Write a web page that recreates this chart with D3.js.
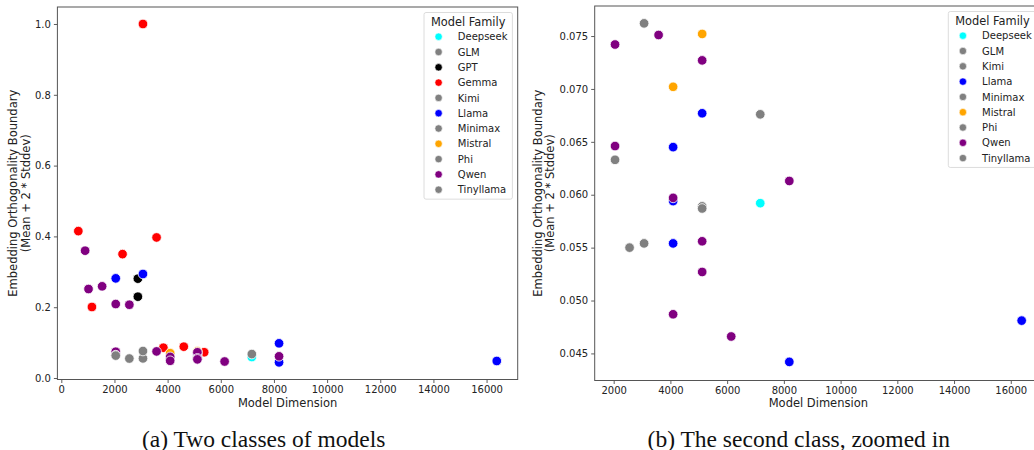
<!DOCTYPE html>
<html>
<head>
<meta charset="utf-8">
<script src="https://cdn.jsdelivr.net/npm/d3@7"></script>
<style>
  body { margin: 0; background: #fff; }
  svg text { font-family: "DejaVu Sans", sans-serif; fill: #222; }
  .caption { font-family: "Liberation Serif", "Times New Roman", serif; fill: #111; }
</style>
</head>
<body>
<svg id="chart" width="1034" height="450"></svg>
<script>
// ---- data ----
var families = ["Deepseek", "GLM", "GPT", "Gemma", "Kimi", "Llama", "Minimax", "Mistral", "Phi", "Qwen", "Tinyllama"];
var familyColors = ["cyan", "gray", "black", "red", "gray", "blue", "gray", "orange", "gray", "purple", "gray"];

// panel (a): all models
var dimsA = [7168, 5120, 2880, 2880, 640, 1152, 2304, 3072, 3584, 3840, 4608, 5376, 7168,
    2048, 3072, 4096, 4096, 4096, 5120, 8192, 8192, 16384, 3072, 4096, 5120, 2560, 3072, 5120,
    896, 1024, 1536, 2048, 2560, 2048, 2048, 3584, 4096, 4096, 5120, 5120, 5120, 6144, 8192, 2048];
var valsA = [0.0592, 0.0589, 0.2806, 0.2297, 0.415, 0.2006, 0.350, 1.0, 0.397, 0.0856, 0.0885, 0.0728, 0.0676,
    0.2815, 0.2938, 0.0645, 0.0594, 0.0554, 0.0677, 0.098, 0.0442, 0.0481, 0.0554, 0.0702, 0.0752, 0.0550, 0.0762, 0.0587,
    0.3596, 0.2514, 0.259, 0.209, 0.207, 0.0742, 0.0646, 0.0751, 0.0597, 0.0487, 0.0727, 0.0556, 0.0527, 0.0466, 0.0613, 0.0633];
var famA = ["Deepseek", "GLM", "GPT", "GPT", "Gemma", "Gemma", "Gemma", "Gemma", "Gemma", "Gemma", "Gemma", "Gemma", "Kimi",
    "Llama", "Llama", "Llama", "Llama", "Llama", "Llama", "Llama", "Llama", "Llama", "Minimax", "Mistral", "Mistral", "Phi", "Phi", "Phi",
    "Qwen", "Qwen", "Qwen", "Qwen", "Qwen", "Qwen", "Qwen", "Qwen", "Qwen", "Qwen", "Qwen", "Qwen", "Qwen", "Qwen", "Qwen", "Tinyllama"];

// panel (b): second class only
var dimsB = [7168, 5120, 7168, 4096, 4096, 4096, 5120, 8192, 16384, 3072, 4096, 5120, 2560, 3072, 5120,
    2048, 2048, 3584, 4096, 4096, 5120, 5120, 5120, 6144, 8192, 2048];
var valsB = [0.0592, 0.0589, 0.0676, 0.0645, 0.0594, 0.0554, 0.0677, 0.0442, 0.0481, 0.0554, 0.0702, 0.0752, 0.0550, 0.0762, 0.0587,
    0.0742, 0.0646, 0.0751, 0.0597, 0.0487, 0.0727, 0.0556, 0.0527, 0.0466, 0.0613, 0.0633];
var famB = ["Deepseek", "GLM", "Kimi", "Llama", "Llama", "Llama", "Llama", "Llama", "Llama", "Minimax", "Mistral", "Mistral", "Phi", "Phi", "Phi",
    "Qwen", "Qwen", "Qwen", "Qwen", "Qwen", "Qwen", "Qwen", "Qwen", "Qwen", "Qwen", "Tinyllama"];

var xTicksA = [0, 2000, 4000, 6000, 8000, 10000, 12000, 14000, 16000];
var yTicksA = [0.0, 0.2, 0.4, 0.6, 0.8, 1.0];
var xTicksB = [2000, 4000, 6000, 8000, 10000, 12000, 14000, 16000];
var yTicksB = [0.045, 0.050, 0.055, 0.060, 0.065, 0.070, 0.075];

var color = d3.scaleOrdinal().domain(families).range(familyColors);
var svg = d3.select("#chart");

// draw one scatter panel
function drawPanel(opt) {
    var x = d3.scaleLinear().domain(opt.xDomain).range([opt.left, opt.right]);
    var y = d3.scaleLinear().domain(opt.yDomain).range([opt.bottom, opt.top]);
    var g = svg.append("g");

    var points = opt.dims.map((d, i) => ({dim: d, val: opt.vals[i], fam: opt.fams[i]}));

    g.selectAll("circle.pt")
        .data(points)
        .enter()
        .append("circle")
        .attr("class", "pt")
        .attr("cx", d => x(d.dim))
        .attr("cy", d => y(d.val))
        .attr("r", 4.8)
        .attr("fill", d => color(d.fam))
        .attr("stroke", "white")
        .attr("stroke-width", 0.8);

    // axes
    var xAxis = g.append("g")
        .attr("transform", `translate(0, ${opt.bottom})`)
        .call(d3.axisBottom(x).tickValues(opt.xTicks).tickFormat(d3.format("d")).tickSize(3.5).tickPadding(3).tickSizeOuter(0));
    var yAxis = g.append("g")
        .attr("transform", `translate(${opt.left}, 0)`)
        .call(d3.axisLeft(y).tickValues(opt.yTicks).tickFormat(d3.format(opt.yFormat)).tickSize(3.5).tickPadding(3).tickSizeOuter(0));
    [xAxis, yAxis].forEach(a => {
        a.select(".domain").remove();
        a.selectAll(".tick line").attr("stroke", "#333").attr("stroke-width", 0.8);
        a.selectAll(".tick text").attr("font-size", "10px").attr("font-family", "DejaVu Sans").attr("fill", "#222");
    });

    // frame
    g.append("rect")
        .attr("x", opt.left)
        .attr("y", opt.top)
        .attr("width", opt.right - opt.left)
        .attr("height", opt.bottom - opt.top)
        .attr("fill", "none")
        .attr("stroke", "#555")
        .attr("stroke-width", 1);

    // axis labels
    g.append("text")
        .attr("x", (opt.left + opt.right) / 2)
        .attr("y", 407)
        .attr("text-anchor", "middle")
        .attr("font-size", "11.5px")
        .text("Model Dimension");

    var midY = (opt.top + opt.bottom) / 2;
    g.append("text")
        .attr("transform", `translate(${opt.ylab1}, ${midY}) rotate(-90)`)
        .attr("text-anchor", "middle")
        .attr("font-size", "11.5px")
        .text("Embedding Orthogonality Boundary");
    g.append("text")
        .attr("transform", `translate(${opt.ylab1 + 12.5}, ${midY}) rotate(-90)`)
        .attr("text-anchor", "middle")
        .attr("font-size", "11.5px")
        .text("(Mean + 2 * Stddev)");

    // legend
    var fams = families.filter(f => opt.fams.indexOf(f) >= 0);
    var lg = g.append("g").attr("transform", `translate(${opt.right - 5.3 - 88.4}, ${opt.top + 5.5})`);
    lg.append("rect")
        .attr("width", 88.4)
        .attr("height", 17.8 + fams.length * 15.35)
        .attr("rx", 2)
        .attr("fill", "white")
        .attr("fill-opacity", 0.8)
        .attr("stroke", "#d3d3d3")
        .attr("stroke-width", 0.8);
    lg.append("text")
        .attr("x", 44.2)
        .attr("y", 13.5)
        .attr("text-anchor", "middle")
        .attr("font-size", "11.4px")
        .text("Model Family");
    var items = lg.selectAll("g.item")
        .data(fams)
        .enter()
        .append("g")
        .attr("class", "item")
        .attr("transform", (d, i) => `translate(0, ${24.2 + i * 15.3})`);
    items.append("circle")
        .attr("cx", 14.6)
        .attr("cy", 0)
        .attr("r", 3.7)
        .attr("fill", d => color(d))
        .attr("stroke", "white")
        .attr("stroke-width", 0.6);
    items.append("text")
        .attr("x", 33.8)
        .attr("y", 3.6)
        .attr("font-size", "10px")
        .text(d => d);
}

drawPanel({
    left: 57.4, right: 517.7, top: 7, bottom: 379.5,
    xDomain: [-147, 17171], yDomain: [-0.0042, 1.048],
    xTicks: xTicksA, yTicks: yTicksA, yFormat: ".1f",
    dims: dimsA, vals: valsA, fams: famA,
    ylab1: 17.3
});

drawPanel({
    left: 594.7, right: 1042, top: 6, bottom: 380.5,
    xDomain: [1331, 17101], yDomain: [0.04244, 0.07784],
    xTicks: xTicksB, yTicks: yTicksB, yFormat: ".3f",
    dims: dimsB, vals: valsB, fams: famB,
    ylab1: 541.8
});

// captions
svg.append("text")
    .attr("class", "caption")
    .attr("x", 263.7)
    .attr("y", 446.5)
    .attr("text-anchor", "middle")
    .attr("font-size", "23.5px")
    .text("(a) Two classes of models");
svg.append("text")
    .attr("class", "caption")
    .attr("x", 798.8)
    .attr("y", 446.5)
    .attr("text-anchor", "middle")
    .attr("font-size", "23.5px")
    .text("(b) The second class, zoomed in");
</script>
</body>
</html>
